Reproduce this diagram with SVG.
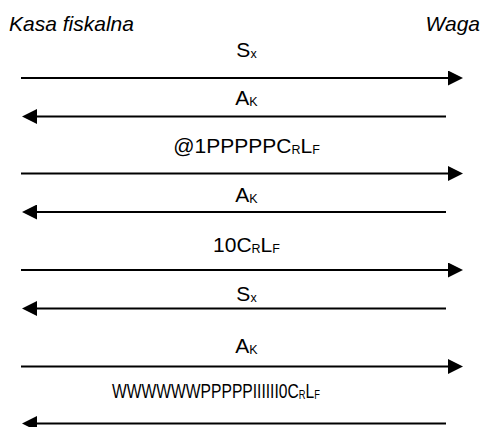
<svg xmlns="http://www.w3.org/2000/svg" width="483" height="427" viewBox="0 0 483 427">
<style>
  .hdr{font-family:"Liberation Sans",Arial,sans-serif;font-size:21px;font-style:italic;fill:#000}
  .lbl{font-family:"Liberation Sans",Arial,sans-serif;font-size:21px;fill:#000;text-anchor:middle}
  .sub{font-size:12.5px}
  .msg{stroke:#000;stroke-width:2;fill:none;marker-end:url(#ah)}
</style>
<defs>
  <marker id="ah" markerUnits="userSpaceOnUse" viewBox="0 0 15 15" markerWidth="15" markerHeight="15" refX="0" refY="7.5" orient="auto">
    <path d="M0,0 L15,7.5 L0,15 z" fill="#000"/>
  </marker>
</defs>
<rect width="483" height="427" fill="#fff"/>
<g id="kasa"><text class="hdr" x="9" y="31">Kasa fiskalna</text></g>
<g id="waga"><text class="hdr" x="480" y="31" text-anchor="end">Waga</text></g>
<g id="connectors">
  <line class="msg" x1="21" y1="78" x2="448" y2="78"/>
  <text class="lbl" x="246.5" y="57">S<tspan class="sub" dy="1">x</tspan></text>
  <line class="msg" x1="446" y1="116.5" x2="37" y2="116.5"/>
  <text class="lbl" x="246.5" y="105">A<tspan class="sub" dy="1">K</tspan></text>
  <line class="msg" x1="21" y1="173.5" x2="448" y2="173.5"/>
  <text class="lbl" x="246.5" y="153">@1PPPPPC<tspan class="sub" dy="1">R</tspan><tspan dy="-1">L</tspan><tspan class="sub" dy="1">F</tspan></text>
  <line class="msg" x1="446" y1="212" x2="37" y2="212"/>
  <text class="lbl" x="246.5" y="202">A<tspan class="sub" dy="1">K</tspan></text>
  <line class="msg" x1="21" y1="270" x2="448" y2="270"/>
  <text class="lbl" x="246.5" y="252">10C<tspan class="sub" dy="1">R</tspan><tspan dy="-1">L</tspan><tspan class="sub" dy="1">F</tspan></text>
  <line class="msg" x1="446" y1="308.5" x2="37" y2="308.5"/>
  <text class="lbl" x="246.5" y="300.5">S<tspan class="sub" dy="1">x</tspan></text>
  <line class="msg" x1="21" y1="366.5" x2="448" y2="366.5"/>
  <text class="lbl" x="246.5" y="352.5">A<tspan class="sub" dy="1">K</tspan></text>
  <line class="msg" x1="446" y1="423.5" x2="37" y2="423.5"/>
  <text class="lbl" x="216" y="398" transform="translate(216,0) scale(0.745,1) translate(-216,0)">WWWWWWPPPPPIIIIII0C<tspan class="sub" dy="1">R</tspan><tspan dy="-1">L</tspan><tspan class="sub" dy="1">F</tspan></text>
</g>
</svg>
